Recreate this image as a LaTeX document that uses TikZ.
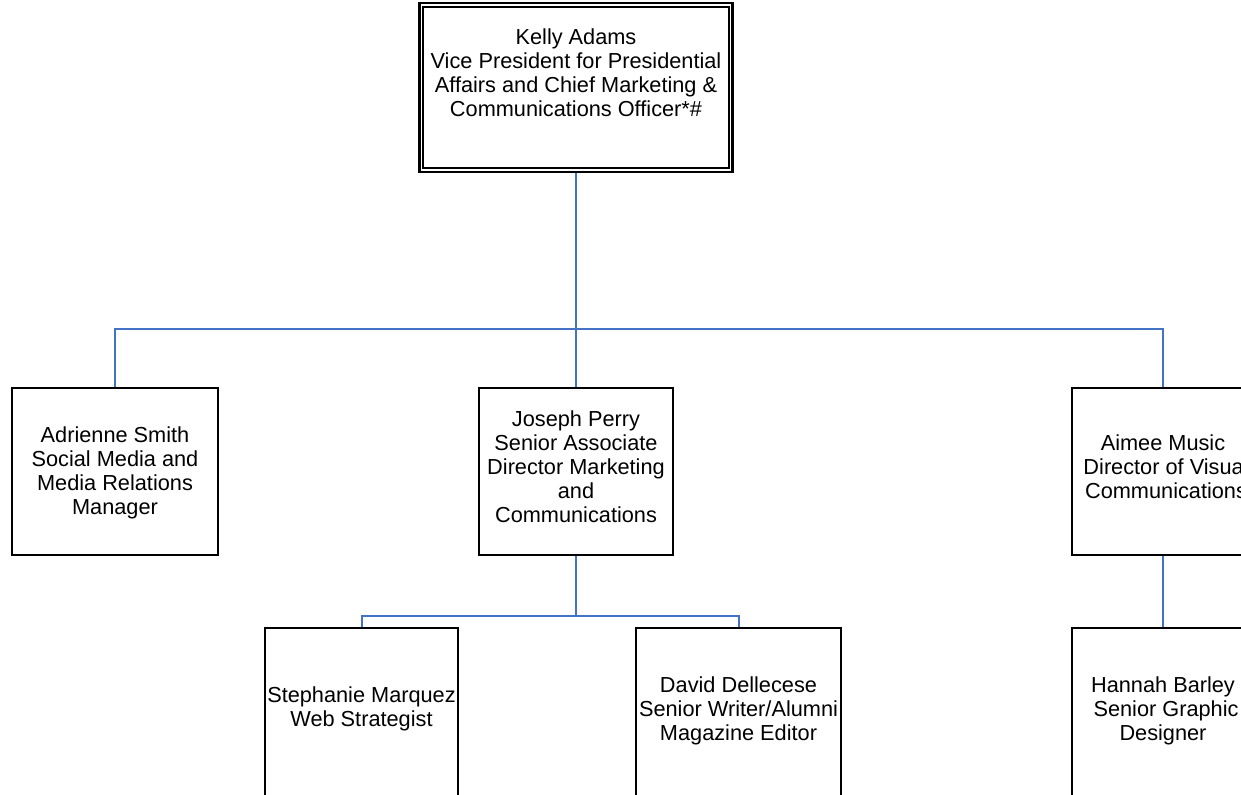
\documentclass[tikz,border=0pt]{standalone}
\usepackage{fontspec}
\setmainfont{Liberation Sans}
\definecolor{connblue}{RGB}{68,114,196}
\begin{document}
\begin{tikzpicture}[x=0.75pt,y=-0.75pt,
  box/.style={draw=black, line width=1.5pt, rectangle, inner sep=0pt, fill=white},
  conn/.style={draw=connblue, line width=1.5pt},
  txt/.style={align=center, inner sep=0pt, font=\fontsize{16.3}{18}\selectfont}]
\useasboundingbox (0,0) rectangle (1241,795);
\clip (0,0) rectangle (1241,795);
% boxes
\node[box, line width=1.9pt, minimum width={313*0.75pt}, minimum height={169*0.75pt}] (top) at (576,87.5) {};
\draw[line width=1.3pt] ([shift={(5,5)}]top.north west) rectangle ([shift={(-5,-5)}]top.south east);
\node[box, minimum width={206*0.75pt}, minimum height={167*0.75pt}] (adr) at (115,471.5) {};
\node[box, minimum width={194*0.75pt}, minimum height={167*0.75pt}] (jos) at (576,471.5) {};
\node[box, minimum width={182*0.75pt}, minimum height={167*0.75pt}] (aim) at (1163,471.5) {};
\node[box, minimum width={193*0.75pt}, minimum height={220*0.75pt}] (ste) at (361.5,738) {};
\node[box, minimum width={205*0.75pt}, minimum height={220*0.75pt}] (dav) at (738.5,738) {};
\node[box, minimum width={182*0.75pt}, minimum height={220*0.75pt}] (han) at (1163,738) {};
% texts
\node[txt] (ttop) at (576,72.5) {Kelly Adams\\Vice President for Presidential\\Affairs and Chief Marketing \&\\Communications Officer*\#};
\node[txt] (tadr) at (115,472.5) {Adrienne Smith\\Social Media and\\Media Relations\\Manager};
\node[txt] (tjos) at (576,467) {Joseph Perry\\Senior Associate\\Director Marketing\\and\\Communications};
\node[txt] (taim) at (1163,466.5) {Aimee Music\\\ Director of Visual\\\ Communications};
\node[txt] (tste) at (361.5,709) {Stephanie Marquez\\Web Strategist};
\node[txt] (tdav) at (738.5,710.5) {David Dellecese\\Senior Writer/Alumni\\Magazine Editor};
\node[txt] (than) at (1163,710.5) {Hannah Barley\\\ Senior Graphic\\Designer};
% connectors
\coordinate (bus1) at (576,329);
\coordinate (bus2) at (576,616);
\draw[conn] (top.south) -- (jos.north);
\draw[conn] (adr.north) |- (bus1) -| (aim.north);
\draw[conn] (jos.south) -- (bus2);
\draw[conn] (ste.north) |- (bus2) -| (dav.north);
\draw[conn] (aim.south) -- (han.north);
\end{tikzpicture}
\end{document}
